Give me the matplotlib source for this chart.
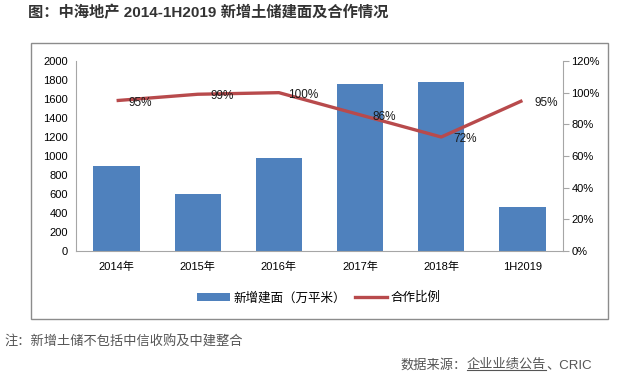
import numpy as np
import matplotlib.pyplot as plt
from matplotlib.patches import Rectangle
from matplotlib.lines import Line2D
from matplotlib.patches import Patch

plt.rcParams['font.family'] = ['Liberation Sans', 'Noto Sans CJK SC', 'DejaVu Sans']

# data
categories = ['2014年', '2015年', '2016年', '2017年', '2018年', '1H2019']
area = [900, 600, 980, 1755, 1780, 460]          # 新增建面（万平米）
coop = [95, 99, 100, 86, 72, 95]                 # 合作比例 %
coop_labels = ['95%', '99%', '100%', '86%', '72%', '95%']

bar_color = '#4F81BD'
line_color = '#B84A4C'

fig = plt.figure(figsize=(6.2, 3.75), dpi=100)
fig.patch.set_facecolor('white')

# outer chart box
box = Rectangle((31 / 620, 1 - 319 / 375), (608 - 31) / 620, (319 - 43) / 375,
                transform=fig.transFigure, fill=False, edgecolor='#8c8c8c', lw=1.0)
fig.patches.append(box)

ax = fig.add_axes([76 / 620, 1 - 251 / 375, (563 - 76) / 620, (251 - 61) / 375])
x = np.arange(len(categories))
ax.bar(x, area, width=0.57, color=bar_color, zorder=2)
ax.set_xlim(-0.5, len(categories) - 0.5)
ax.set_ylim(0, 2000)
ax.set_yticks(np.arange(0, 2001, 200))
ax.set_xticks(x)
ax.set_xticklabels(categories)
ax.tick_params(axis='y', length=0, labelsize=8, pad=6)
ax.tick_params(axis='x', length=0, labelsize=8, pad=8)
for s in ['top', 'right']:
    ax.spines[s].set_visible(False)
ax.spines['left'].set_color('#a6a6a6')
ax.spines['bottom'].set_color('#a6a6a6')

ax2 = ax.twinx()
ax2.plot(x, coop, color=line_color, lw=2.4, zorder=3, solid_capstyle='butt')
ax2.set_ylim(0, 120)
ax2.set_yticks(np.arange(0, 121, 20))
ax2.set_yticklabels([f'{v}%' for v in range(0, 121, 20)])
ax2.tick_params(axis='y', length=4, color='#a6a6a6', labelsize=8, pad=2)
for s in ['top', 'left', 'bottom']:
    ax2.spines[s].set_visible(False)
ax2.spines['right'].set_color('#a6a6a6')

for xi, v, lab in zip(x, coop, coop_labels):
    ax2.annotate(lab, (xi, v), xytext=(24, -2), textcoords='offset pixels',
                 ha='center', va='center', fontsize=8.5, color='#1a1a1a')

# legend
handles = [Patch(facecolor=bar_color, edgecolor='none'),
           Line2D([0], [0], color=line_color, lw=2.4)]
fig.legend(handles, ['新增建面（万平米）', '合作比例'], loc='center',
           bbox_to_anchor=(319 / 620, 1 - 298 / 375), ncol=2, frameon=False,
           fontsize=9, handlelength=2.6, handleheight=0.6, columnspacing=0.7,
           handletextpad=0.3)

# texts
fig.text(28 / 620, 1 - 13 / 375, '图：中海地产 2014-1H2019 新增土储建面及合作情况',
         ha='left', va='center', fontsize=11, fontweight='bold', color='#333333')
fig.text(4 / 620, 1 - 342 / 375, '注：新增土储不包括中信收购及中建整合',
         ha='left', va='center', fontsize=9.5, color='#555555')

# source line, with the company part underlined
src_y = 1 - 365 / 375
src_kw = dict(va='center', fontsize=9.5, color='#555555')
fig.canvas.draw()
r = fig.canvas.get_renderer()
t3 = fig.text(592 / 620, src_y, '、CRIC', ha='right', **src_kw)
b3 = t3.get_window_extent(r)
t2 = fig.text(b3.x0 / 620, src_y, '企业业绩公告', ha='right', **src_kw)
b2 = t2.get_window_extent(r)
t1 = fig.text(b2.x0 / 620, src_y, '数据来源：', ha='right', **src_kw)
uy = (b2.y0 + 1) / 375
fig.add_artist(Line2D([b2.x0 / 620, b2.x1 / 620], [uy, uy], transform=fig.transFigure,
                      color='#555555', lw=0.8))

fig.savefig('out.png', dpi=100, facecolor='white')
